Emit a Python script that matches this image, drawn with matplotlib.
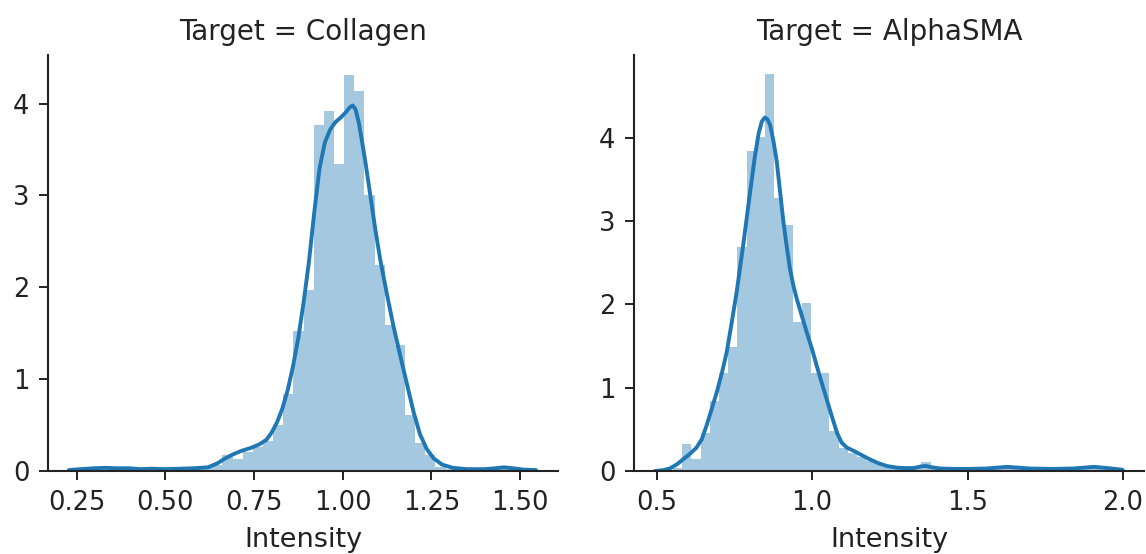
import numpy as np
import matplotlib
matplotlib.use("Agg")
import matplotlib.pyplot as plt

# facet names
targets = ["Collagen", "AlphaSMA"]

# Collagen: histogram (density per bin) and kde curve
collagen_bin_start = 0.232
collagen_bin_width = 0.0286
collagen_density = [0.023, 0.0, 0.047, 0.023, 0.047, 0.023, 0.0, 0.023, 0.047, 0.0,
                    0.023, 0.047, 0.023, 0.047, 0.07, 0.17, 0.13, 0.21, 0.26, 0.33,
                    0.50, 0.84, 1.52, 1.97, 3.77, 3.92, 3.34, 4.31, 4.14, 3.01,
                    2.24, 1.59, 1.37, 0.61, 0.30, 0.17, 0.047, 0.023, 0.0, 0.023,
                    0.0, 0.023, 0.047, 0.023, 0.0, 0.023]
collagen_kde_x = [0.228, 0.26, 0.30, 0.33, 0.36, 0.40, 0.43, 0.46, 0.50, 0.54,
                  0.58, 0.62, 0.645, 0.67, 0.69, 0.715, 0.74, 0.765, 0.785, 0.80,
                  0.815, 0.83, 0.845, 0.86, 0.875, 0.89, 0.905, 0.92, 0.935, 0.95,
                  0.965, 0.98, 0.995, 1.01, 1.02, 1.028, 1.036, 1.045, 1.055, 1.065,
                  1.078, 1.092, 1.106, 1.125, 1.143, 1.162, 1.181, 1.20, 1.218, 1.237,
                  1.256, 1.28, 1.31, 1.35, 1.40, 1.43, 1.455, 1.48, 1.51, 1.545]
collagen_kde_y = [0.01, 0.02, 0.03, 0.035, 0.03, 0.03, 0.02, 0.025, 0.02, 0.025,
                  0.03, 0.04, 0.08, 0.14, 0.18, 0.22, 0.25, 0.29, 0.34, 0.42,
                  0.53, 0.68, 0.88, 1.14, 1.45, 1.84, 2.28, 2.82, 3.30, 3.58,
                  3.72, 3.80, 3.85, 3.91, 3.96, 3.98, 3.94, 3.80, 3.58, 3.34,
                  3.00, 2.63, 2.30, 1.92, 1.58, 1.26, 0.95, 0.64, 0.40, 0.24,
                  0.14, 0.07, 0.035, 0.02, 0.02, 0.03, 0.04, 0.03, 0.015, 0.01]

# AlphaSMA
alpha_bin_start = 0.493
alpha_bin_width = 0.0296
alpha_density = [0.02, 0.0, 0.04, 0.32, 0.14, 0.45, 0.84, 1.17, 1.49, 2.69,
                 3.84, 4.01, 4.76, 3.28, 2.95, 1.79, 2.01, 1.18, 1.17, 0.48,
                 0.28, 0.22, 0.17, 0.12, 0.08, 0.06, 0.04, 0.02, 0.04, 0.11,
                 0.02, 0.02, 0.0, 0.02, 0.02, 0.0, 0.02, 0.02, 0.04, 0.02,
                 0.0, 0.02, 0.0, 0.02, 0.0, 0.02, 0.02, 0.04, 0.04, 0.02]
alpha_kde_x = [0.494, 0.52, 0.542, 0.565, 0.585, 0.605, 0.628, 0.645, 0.66, 0.675,
               0.693, 0.71, 0.725, 0.74, 0.757, 0.778, 0.80, 0.815, 0.828, 0.838,
               0.848, 0.856, 0.865, 0.876, 0.886, 0.897, 0.907, 0.918, 0.929, 0.94,
               0.951, 0.967, 0.983, 1.0, 1.015, 1.03, 1.047, 1.064, 1.08, 1.095,
               1.112, 1.135, 1.155, 1.18, 1.209, 1.24, 1.273, 1.30, 1.327, 1.35,
               1.365, 1.385, 1.413, 1.46, 1.50, 1.56, 1.628, 1.70, 1.77, 1.84,
               1.907, 1.95, 1.999]
alpha_kde_y = [0.0, 0.01, 0.03, 0.08, 0.14, 0.20, 0.28, 0.38, 0.54, 0.72,
               0.94, 1.18, 1.42, 1.75, 2.14, 2.70, 3.33, 3.75, 4.05, 4.19,
               4.24, 4.22, 4.15, 3.95, 3.72, 3.35, 3.01, 2.70, 2.42, 2.22,
               2.06, 1.86, 1.66, 1.46, 1.26, 1.07, 0.86, 0.65, 0.46, 0.34,
               0.28, 0.24, 0.20, 0.15, 0.10, 0.06, 0.04, 0.035, 0.035, 0.055,
               0.06, 0.045, 0.03, 0.025, 0.025, 0.03, 0.05, 0.03, 0.025, 0.03,
               0.05, 0.035, 0.015]

collagen_xticks = [0.25, 0.50, 0.75, 1.00, 1.25, 1.50]
alpha_xticks = [0.5, 1.0, 1.5, 2.0]
yticks = [0, 1, 2, 3, 4]

blue = "#1f77b4"
ink = "#222222"


def draw_panel(ax, name, start, width, dens, kx, ky, xticks, xlim, ylim):
    edges = start + width * np.arange(len(dens) + 1)
    ax.stairs(dens, edges, fill=True, color=blue, alpha=0.4, linewidth=0)
    ax.plot(kx, ky, color=blue, lw=2.8, solid_capstyle="round")
    ax.set_xlim(*xlim)
    ax.set_ylim(*ylim)
    ax.set_xticks(xticks)
    ax.set_yticks(yticks)
    ax.set_title("Target = " + name, fontsize=20, color=ink, pad=11)
    ax.set_xlabel("Intensity", fontsize=19.5, color=ink, labelpad=8)
    for s in ["top", "right"]:
        ax.spines[s].set_visible(False)
    for s in ["left", "bottom"]:
        ax.spines[s].set_linewidth(1.5)
        ax.spines[s].set_color(ink)
    ax.tick_params(labelsize=18.5, colors=ink, length=6.5, width=1.4, pad=7)


fig = plt.figure(figsize=(11.46, 5.54), dpi=100)
ax1 = fig.add_axes([0.0421, 0.1498, 0.4448, 0.751])
ax2 = fig.add_axes([0.5535, 0.1498, 0.4448, 0.751])

draw_panel(ax1, targets[0], collagen_bin_start, collagen_bin_width, collagen_density,
           collagen_kde_x, collagen_kde_y, collagen_xticks, (0.170, 1.607), (0, 4.53))
draw_panel(ax2, targets[1], alpha_bin_start, alpha_bin_width, alpha_density,
           alpha_kde_x, alpha_kde_y, alpha_xticks, (0.428, 2.068), (0, 4.99))

fig.savefig("out.png", dpi=100)
